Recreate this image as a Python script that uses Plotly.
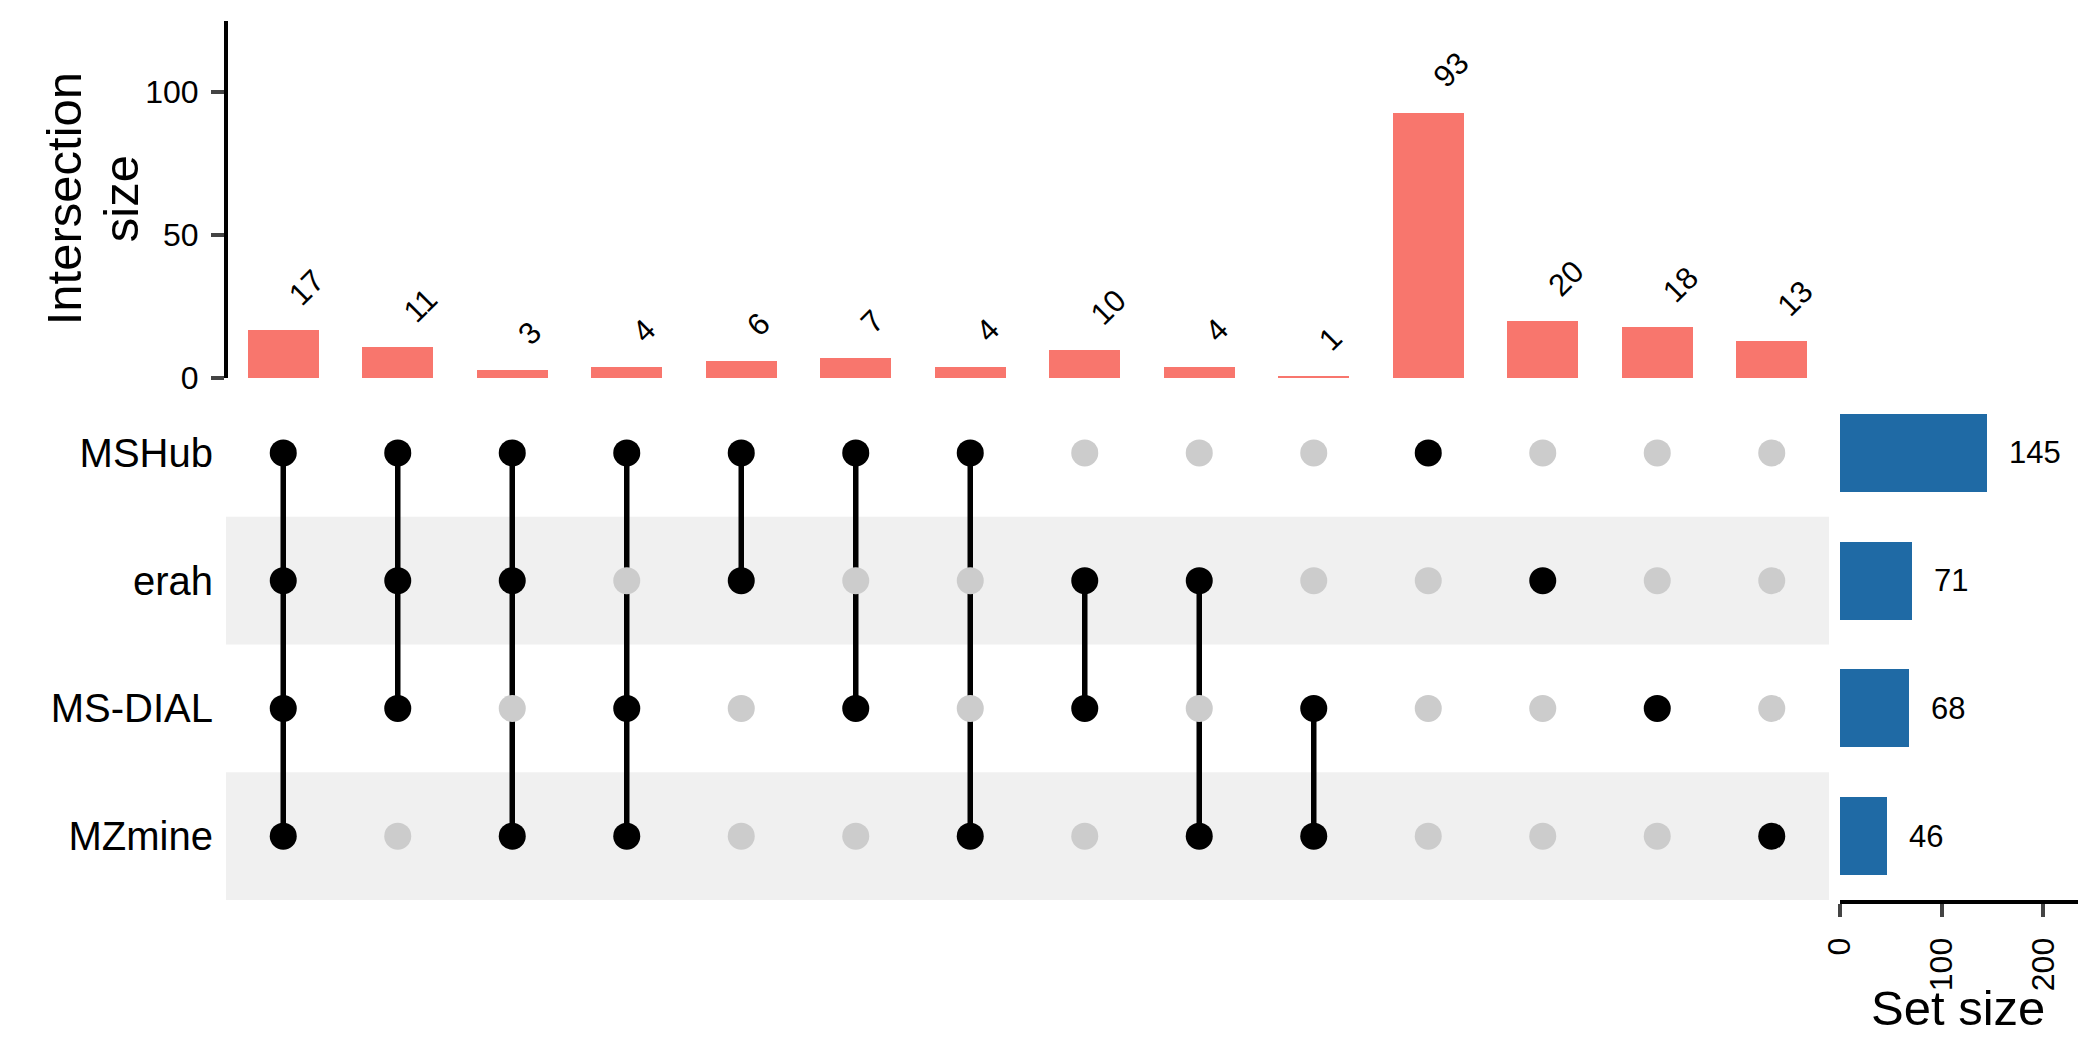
import plotly.graph_objects as go

FONT = "Liberation Sans, Arial, sans-serif"
RED = "#F8766D"
BLUE = "#1F6AA5"
GREY_DOT = "#CCCCCC"
BAND = "#F0F0F0"

set_names = ["MSHub", "erah", "MS-DIAL", "MZmine"]
set_sizes = [145, 71, 68, 46]

intersection_sizes = [17, 11, 3, 4, 6, 7, 4, 10, 4, 1, 93, 20, 18, 13]
intersection_members = [
    ["MSHub", "erah", "MS-DIAL", "MZmine"],
    ["MSHub", "erah", "MS-DIAL"],
    ["MSHub", "erah", "MZmine"],
    ["MSHub", "MS-DIAL", "MZmine"],
    ["MSHub", "erah"],
    ["MSHub", "MS-DIAL"],
    ["MSHub", "MZmine"],
    ["erah", "MS-DIAL"],
    ["erah", "MZmine"],
    ["MS-DIAL", "MZmine"],
    ["MSHub"],
    ["erah"],
    ["MS-DIAL"],
    ["MZmine"],
]

# the page body has an 8px margin, so the figure is shrunk to keep the page at 2100x1050
OFF = 8
W, H = 2100 - 2 * OFF, 1050 - 2 * OFF


def px(x):
    return (x - OFF) / W


def py(y):
    return 1 - (y - OFF) / H


x_dom = [px(226), px(1829)]
top_dom = [py(378), py(20.5)]
mat_dom = [py(900), py(389)]
set_dom = [px(1840), px(2078)]

# row index: MSHub on top
row_of = {name: len(set_names) - 1 - i for i, name in enumerate(set_names)}
cols = list(range(len(intersection_sizes)))

fig = go.Figure()

# intersection bars
fig.add_trace(go.Bar(
    x=cols, y=intersection_sizes, marker=dict(color=RED, line=dict(width=0)),
    width=0.62, xaxis="x", yaxis="y", hoverinfo="skip"
))

# matrix: connecting lines
lx, ly = [], []
for c, members in zip(cols, intersection_members):
    rows = [row_of[m] for m in members]
    if len(rows) > 1:
        lx += [c, c, None]
        ly += [min(rows), max(rows), None]
fig.add_trace(go.Scatter(
    x=lx, y=ly, mode="lines", line=dict(color="black", width=5.5),
    xaxis="x2", yaxis="y2", hoverinfo="skip"
))

gx, gy, bx, by = [], [], [], []
for c, members in zip(cols, intersection_members):
    for name in set_names:
        if name in members:
            bx.append(c); by.append(row_of[name])
        else:
            gx.append(c); gy.append(row_of[name])
fig.add_trace(go.Scatter(
    x=gx, y=gy, mode="markers", marker=dict(color=GREY_DOT, size=27, line=dict(width=0)),
    xaxis="x2", yaxis="y2", hoverinfo="skip"
))
fig.add_trace(go.Scatter(
    x=bx, y=by, mode="markers", marker=dict(color="black", size=27, line=dict(width=0)),
    xaxis="x2", yaxis="y2", hoverinfo="skip"
))

# set size bars
fig.add_trace(go.Bar(
    x=set_sizes, y=[row_of[n] for n in set_names], orientation="h", width=0.61,
    marker=dict(color=BLUE, line=dict(width=0)), xaxis="x3", yaxis="y3", hoverinfo="skip"
))

# shaded bands behind matrix rows
shapes = []
for name in ["erah", "MZmine"]:
    r = row_of[name]
    shapes.append(dict(
        type="rect", xref="paper", yref="y2", x0=x_dom[0], x1=x_dom[1],
        y0=r - 0.5, y1=r + 0.5, fillcolor=BAND, line=dict(width=0), layer="below"
    ))

annotations = []
for c, v in zip(cols, intersection_sizes):
    annotations.append(dict(
        x=c, y=v, xref="x", yref="y", text=str(v), showarrow=False,
        textangle=-45, xanchor="left", yanchor="bottom", xshift=-4, yshift=15,
        font=dict(family=FONT, size=31, color="black")
    ))
for name, v in zip(set_names, set_sizes):
    annotations.append(dict(
        x=v, y=row_of[name], xref="x3", yref="y3", text=str(v), showarrow=False,
        xanchor="left", yanchor="middle", xshift=20,
        font=dict(family=FONT, size=31, color="black")
    ))
mid_top = (top_dom[0] + top_dom[1]) / 2
for txt, xpx in [("Intersection", 64), ("size", 121)]:
    annotations.append(dict(
        x=px(xpx), y=mid_top, xref="paper", yref="paper", text=txt, textangle=-90,
        showarrow=False, xanchor="center", yanchor="middle",
        font=dict(family=FONT, size=49, color="black")
    ))
annotations.append(dict(
    x=px(1958), y=py(1008), xref="paper", yref="paper", text="Set size",
    showarrow=False, xanchor="center", yanchor="middle",
    font=dict(family=FONT, size=49, color="black")
))

fig.update_layout(
    width=W, height=H, margin=dict(l=0, r=0, t=0, b=0),
    paper_bgcolor="white", plot_bgcolor="rgba(0,0,0,0)",
    showlegend=False, bargap=0,
    font=dict(family=FONT, color="black"),
    shapes=shapes, annotations=annotations,
    xaxis=dict(domain=x_dom, range=[-0.5, 13.5], anchor="y", visible=False,
               automargin=False),
    yaxis=dict(
        domain=top_dom, range=[0, 125], anchor="free", position=x_dom[0],
        tickvals=[0, 50, 100], ticks="outside", ticklen=13, tickwidth=4,
        showline=True, linecolor="black", linewidth=4, showgrid=False, zeroline=False,
        tickfont=dict(size=32, family=FONT, color="black"), ticklabelstandoff=6,
        automargin=False
    ),
    xaxis2=dict(domain=x_dom, range=[-0.5, 13.5], anchor="y2", matches="x",
                visible=False, automargin=False),
    yaxis2=dict(
        domain=mat_dom, range=[-0.5, 3.5], anchor="free", position=x_dom[0],
        tickvals=[row_of[n] for n in set_names], ticktext=set_names, ticks="",
        showline=False, showgrid=False, zeroline=False, ticklabelstandoff=13,
        tickfont=dict(size=40, family=FONT, color="black"), automargin=False
    ),
    xaxis3=dict(
        domain=set_dom, range=[0, 234], anchor="y3", side="bottom",
        tickvals=[0, 100, 200], ticks="outside", ticklen=13, tickwidth=4, tickangle=-90,
        showline=True, linecolor="black", linewidth=4, showgrid=False, zeroline=False,
        tickfont=dict(size=32, family=FONT, color="black"), ticklabelstandoff=8,
        automargin=False
    ),
    yaxis3=dict(domain=mat_dom, range=[-0.5, 3.5], anchor="x3", visible=False,
                automargin=False),
)

fig.write_html("out.html")
